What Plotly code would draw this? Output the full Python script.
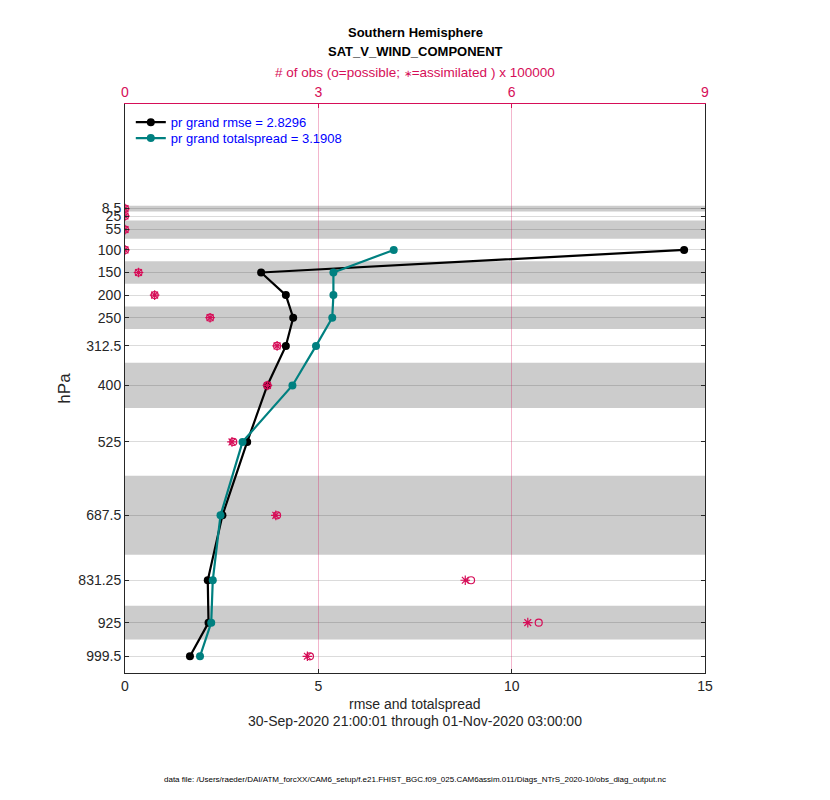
import plotly.graph_objects as go

# pressure levels (hPa) and layer edges
levels = [8.5, 25, 55, 100, 150, 200, 250, 312.5, 400, 525, 687.5, 831.25, 925, 999.5]
level_labels = ["8.5", "25", "55", "100", "150", "200", "250", "312.5", "400", "525",
                "687.5", "831.25", "925", "999.5"]
edges = [2, 15, 35, 75, 125, 175, 225, 275, 350, 450, 600, 775, 887.5, 962.5, 1036.5]

# rmse / totalspread (None where no data)
rmse = [None, None, None, 14.46, 3.52, 4.16, 4.35, 4.16, 3.68, 3.16, 2.52, 2.14, 2.16, 1.68]
totalspread = [None, None, None, 6.95, 5.39, 5.39, 5.36, 4.94, 4.33, 3.04, 2.47, 2.27, 2.23, 1.94]

# number of obs, x 100000
nposs = [0.0, 0.0, 0.0, 0.0, 0.21, 0.46, 1.32, 2.36, 2.21, 1.68, 2.36, 5.37, 6.42, 2.87]
nused = [0.0, 0.0, 0.0, 0.0, 0.21, 0.46, 1.32, 2.36, 2.21, 1.66, 2.34, 5.28, 6.25, 2.83]

grand_rmse = 2.8296
grand_spread = 3.1908

OBS = "rgb(214,14,88)"
TEAL = "rgb(0,128,128)"
FONT = "Liberation Sans, Arial, sans-serif"

fig = go.Figure()

fig.add_trace(go.Scatter(x=nused, y=levels, xaxis="x2", mode="markers", showlegend=False,
                         marker=dict(symbol="asterisk-open", size=8, color=OBS,
                                     line=dict(color=OBS, width=1.2))))
fig.add_trace(go.Scatter(x=nposs, y=levels, xaxis="x2", mode="markers", showlegend=False,
                         marker=dict(symbol="circle-open", size=7, color=OBS,
                                     line=dict(color=OBS, width=1.2))))
fig.add_trace(go.Scatter(x=rmse, y=levels, mode="lines+markers", legend="legend",
                         name="pr grand rmse = %.4f" % grand_rmse,
                         line=dict(color="black", width=2.2),
                         marker=dict(symbol="circle", size=8, color="black")))
fig.add_trace(go.Scatter(x=totalspread, y=levels, mode="lines+markers", legend="legend2",
                         name="pr grand totalspread = %.4f" % grand_spread,
                         line=dict(color=TEAL, width=2.2),
                         marker=dict(symbol="circle", size=8, color=TEAL)))

# shaded alternating layers
for i in range(0, len(levels) - 1, 2):
    fig.add_shape(type="rect", xref="x domain", yref="y", x0=0, x1=1,
                  y0=edges[i], y1=edges[i + 1], fillcolor="rgb(204,204,204)",
                  line=dict(width=0), layer="below")

leg = dict(x=0.01, xanchor="left", yanchor="middle", bgcolor="rgba(0,0,0,0)",
           font=dict(color="blue", size=13))

# the page puts the figure 8px in from the top-left corner
fig.update_layout(
    width=822, height=792,
    margin=dict(l=117, r=125, t=96, b=126.5),
    paper_bgcolor="white", plot_bgcolor="white",
    font=dict(family=FONT, size=14, color="#262626"),
    showlegend=True,
    legend=dict(y=0.968, **leg),
    legend2=dict(y=0.940, **leg),
    xaxis=dict(range=[0, 15], tickvals=[0, 5, 10, 15], showgrid=False, zeroline=False,
               showline=True, linecolor="#262626", linewidth=1, automargin=False,
               ticks="inside", ticklen=4, tickcolor="#262626"),
    xaxis2=dict(range=[0, 9], tickvals=[0, 3, 6, 9], overlaying="x", side="top",
                showgrid=True, gridcolor="rgba(214,14,88,0.3)", gridwidth=1, zeroline=False,
                showline=True, linecolor=OBS, linewidth=1, ticks="inside", ticklen=4,
                tickcolor=OBS, tickfont=dict(color=OBS, size=14), automargin=False),
    yaxis=dict(range=[1036.5, -223], tickvals=levels, ticktext=level_labels,
               showgrid=True, gridcolor="rgba(0,0,0,0.14)", gridwidth=1, zeroline=False,
               showline=True, linecolor="#262626", linewidth=1, mirror="ticks",
               ticks="inside", ticklen=4, tickcolor="#262626", automargin=False,
               title=dict(text="hPa", standoff=3)),
)

ann = [
    ("<b>Southern Hemisphere</b>", 1.125, 13, "black"),
    ("<b>SAT_V_WIND_COMPONENT</b>", 1.093, 13, "black"),
    ("# of obs (o=possible; <span style='font-size:10px'>∗</span>=assimilated ) x 100000",
     1.056, 13.5, OBS),
    ("rmse and totalspread", -0.054, 14, "#262626"),
    ("30-Sep-2020 21:00:01 through 01-Nov-2020 03:00:00", -0.084, 14, "#262626"),
]
for text, y, size, color in ann:
    fig.add_annotation(text=text, xref="paper", yref="paper", x=0.5, y=y, showarrow=False,
                       font=dict(size=size, color=color), xanchor="center", yanchor="middle")

fig.add_annotation(text="data file: /Users/raeder/DAI/ATM_forcXX/CAM6_setup/f.e21.FHIST_BGC.f09_025.CAM6assim.011/Diags_NTrS_2020-10/obs_diag_output.nc",
                   xref="paper", yref="paper", x=0.5, y=-0.187, showarrow=False,
                   font=dict(size=8, color="black"), xanchor="center", yanchor="middle")

fig.write_html("out.html")
